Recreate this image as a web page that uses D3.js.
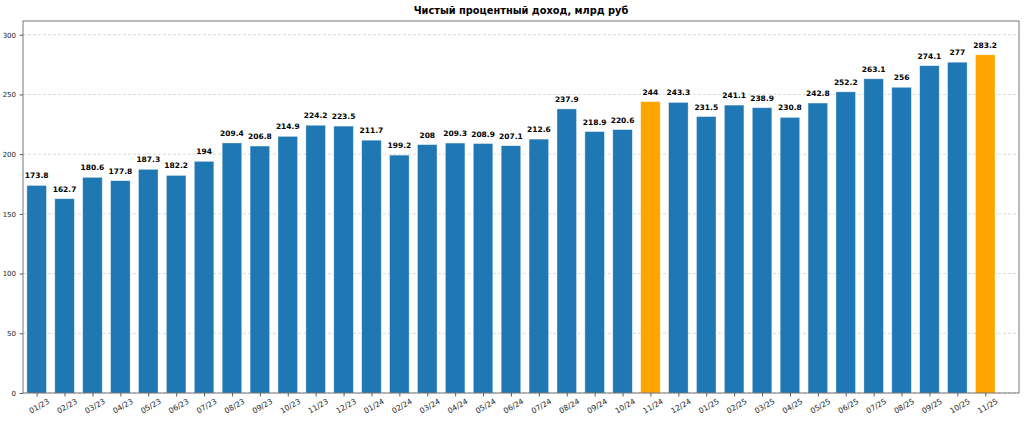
<!DOCTYPE html>
<html>
<head>
<meta charset="utf-8">
<script src="https://cdn.jsdelivr.net/npm/d3@7"></script>
<style>
  body { margin: 0; background: #fff; }
  text { font-family: "DejaVu Sans", sans-serif; }
</style>
</head>
<body>
<div id="chart"></div>
<script>
const months = [
  "01/23", "02/23", "03/23", "04/23", "05/23", "06/23", "07/23", "08/23", "09/23", "10/23", "11/23", "12/23",
  "01/24", "02/24", "03/24", "04/24", "05/24", "06/24", "07/24", "08/24", "09/24", "10/24", "11/24", "12/24",
  "01/25", "02/25", "03/25", "04/25", "05/25", "06/25", "07/25", "08/25", "09/25", "10/25", "11/25"
];
const income = [
  173.8, 162.7, 180.6, 177.8, 187.3, 182.2, 194, 209.4, 206.8, 214.9, 224.2, 223.5,
  211.7, 199.2, 208, 209.3, 208.9, 207.1, 212.6, 237.9, 218.9, 220.6, 244, 243.3,
  231.5, 241.1, 238.9, 230.8, 242.8, 252.2, 263.1, 256, 274.1, 277, 283.2
];
const highlighted = ["11/24", "11/25"];
const yTicks = [0, 50, 100, 150, 200, 250, 300];

const margin = { top: 21, right: 5, bottom: 28, left: 23 };
const width = 1024 - margin.left - margin.right;
const height = 421 - margin.top - margin.bottom;

const svg = d3
  .select("#chart")
  .append("svg")
  .attr("width", 1024)
  .attr("height", 421);

svg
  .append("text")
  .attr("x", margin.left + width / 2)
  .attr("y", 14)
  .attr("text-anchor", "middle")
  .attr("font-size", 9.8)
  .attr("font-weight", "bold")
  .text("Чистый процентный доход, млрд руб");

const container = svg
  .append("g")
  .attr("transform", `translate(${margin.left}, ${margin.top})`);

const x = d3.scaleLinear().domain([-0.49, 35.21]).range([0, width]);
const y = d3.scaleLinear().domain([0, d3.max(income) * 1.1]).range([height, 0]);
const barW = x(0.7) - x(0);

// grid
container
  .selectAll(".grid")
  .data(yTicks)
  .enter()
  .append("line")
  .attr("x1", 0)
  .attr("x2", width)
  .attr("y1", (d) => y(d))
  .attr("y2", (d) => y(d))
  .attr("stroke", "#b0b0b0")
  .attr("stroke-opacity", 0.6)
  .attr("stroke-width", 0.8)
  .attr("stroke-dasharray", "3,2");

container
  .selectAll("rect.bar")
  .data(income)
  .enter()
  .append("rect")
  .attr("class", "bar")
  .attr("x", (d, i) => x(i) - barW / 2)
  .attr("y", (d) => y(d))
  .attr("width", barW)
  .attr("height", (d) => height - y(d))
  .attr("fill", (d, i) => (highlighted.includes(months[i]) ? "#ffa500" : "#1f77b4"))
  .attr("stroke", "#ffffff")
  .attr("stroke-opacity", 0.5)
  .attr("stroke-width", 0.7);

container
  .selectAll("text.val")
  .data(income)
  .enter()
  .append("text")
  .attr("class", "val")
  .attr("x", (d, i) => x(i))
  .attr("y", (d) => y(d) - 7)
  .attr("text-anchor", "middle")
  .attr("font-size", 7.5)
  .attr("font-weight", "bold")
  .text((d) => d);

// y axis
const yAxis = container.append("g").call(
  d3.axisLeft(y).tickValues(yTicks).tickSize(3.5).tickPadding(3.5)
);
yAxis.select(".domain").remove();
yAxis.selectAll("text").attr("font-size", 7).attr("fill", "#222");
yAxis.selectAll("line").attr("stroke", "#333").attr("stroke-width", 0.8);

// x axis
const xAxis = container
  .append("g")
  .attr("transform", `translate(0, ${height})`)
  .call(
    d3.axisBottom(x)
      .tickValues(d3.range(months.length))
      .tickFormat((i) => months[i])
      .tickSize(3.5)
  );
xAxis.select(".domain").remove();
xAxis.selectAll("line").attr("stroke", "#333").attr("stroke-width", 0.8);
xAxis
  .selectAll("text")
  .attr("font-size", 7.6)
  .attr("fill", "#222")
  .attr("text-anchor", "middle")
  .attr("y", 0)
  .attr("dy", "0.35em")
  .attr("transform", "translate(2, 13) rotate(-30)");

// frame
container
  .append("rect")
  .attr("width", width)
  .attr("height", height)
  .attr("fill", "none")
  .attr("stroke", "#555")
  .attr("stroke-width", 0.8);
</script>
</body>
</html>
